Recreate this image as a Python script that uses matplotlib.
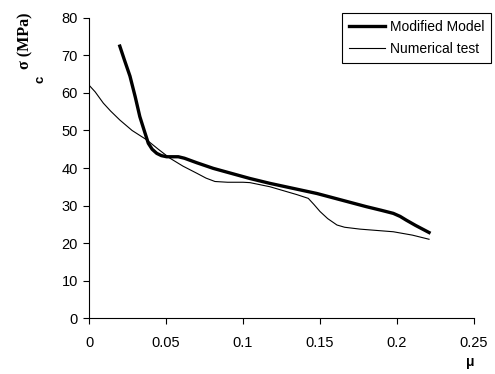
import numpy as np
import matplotlib.pyplot as plt

plt.rcParams['font.family'] = ['Liberation Sans', 'DejaVu Sans']

# Modified Model (curva gruesa)
mu_model = [0.020, 0.023, 0.0266, 0.030, 0.033, 0.036, 0.0385, 0.041, 0.044, 0.047,
            0.0504, 0.058, 0.062, 0.070, 0.0807, 0.1045, 0.1175, 0.148, 0.180,
            0.190, 0.1976, 0.202, 0.206, 0.212, 0.2208]
sig_model = [72.5, 68.8, 64.5, 59.0, 53.7, 49.8, 46.6, 45.0, 43.9, 43.3,
             43.0, 43.0, 42.6, 41.4, 39.9, 37.2, 35.9, 33.2, 29.7,
             28.7, 27.9, 27.1, 26.1, 24.7, 22.8]

# Numerical test (curva fina)
mu_num = [0.0, 0.004, 0.0093, 0.014, 0.020, 0.028, 0.0375, 0.045, 0.0526, 0.061,
          0.070, 0.076, 0.0818, 0.090, 0.100, 0.1045, 0.1175, 0.135, 0.1424,
          0.146, 0.150, 0.155, 0.161, 0.166, 0.176, 0.1976, 0.210, 0.2208]
sig_num = [62.1, 60.3, 57.3, 55.2, 52.8, 50.0, 47.5, 45.0, 42.6, 40.5,
           38.6, 37.3, 36.4, 36.2, 36.2, 36.1, 35.0, 32.9, 31.9,
           30.3, 28.4, 26.5, 24.8, 24.2, 23.7, 23.0, 22.1, 21.0]

xticks = [0, 0.05, 0.1, 0.15, 0.2, 0.25]
xlabels = ['0', '0.05', '0.1', '0.15', '0.2', '0.25']
yticks = [0, 10, 20, 30, 40, 50, 60, 70, 80]

fig = plt.figure(figsize=(4.95, 3.74), dpi=100)
ax = fig.add_axes([0.1798, 0.1497, 0.9576 - 0.1798, 0.9519 - 0.1497])

ax.plot(mu_model, sig_model, color='black', lw=2.4, label='Modified Model',
        solid_joinstyle='round')
ax.plot(mu_num, sig_num, color='black', lw=0.8, label='Numerical test')

ax.set_xlim(0, 0.25)
ax.set_ylim(0, 80)
ax.set_xticks(xticks)
ax.set_xticklabels(xlabels)
ax.set_yticks(yticks)
ax.tick_params(direction='out', length=4, width=0.8, labelsize=10.5, pad=4)
ax.tick_params(axis='x', pad=9)
for s in ['top', 'right']:
    ax.spines[s].set_visible(False)

# etiquetas de ejes
fig.text(25 / 495, 1 - 41 / 374, 'σ (MPa)', rotation=90, family='Liberation Serif',
         fontweight='bold', fontsize=11.5, ha='center', va='center')
fig.text(41 / 495, 1 - 79 / 374, 'c', rotation=90, fontweight='bold', fontsize=9.5,
         ha='center', va='center')
fig.text(470 / 495, 1 - 362 / 374, 'μ', fontweight='bold', fontsize=10,
         ha='center', va='center')

leg = ax.legend(loc='upper right', bbox_to_anchor=(491 / 495, 1 - 13 / 374),
                bbox_transform=fig.transFigure, fancybox=False, edgecolor='black',
                framealpha=1, fontsize=10, handlelength=2.6, borderpad=0.5,
                labelspacing=0.6, handletextpad=0.3, borderaxespad=0)
leg.get_frame().set_linewidth(0.8)

fig.savefig('out.png', dpi=100)
